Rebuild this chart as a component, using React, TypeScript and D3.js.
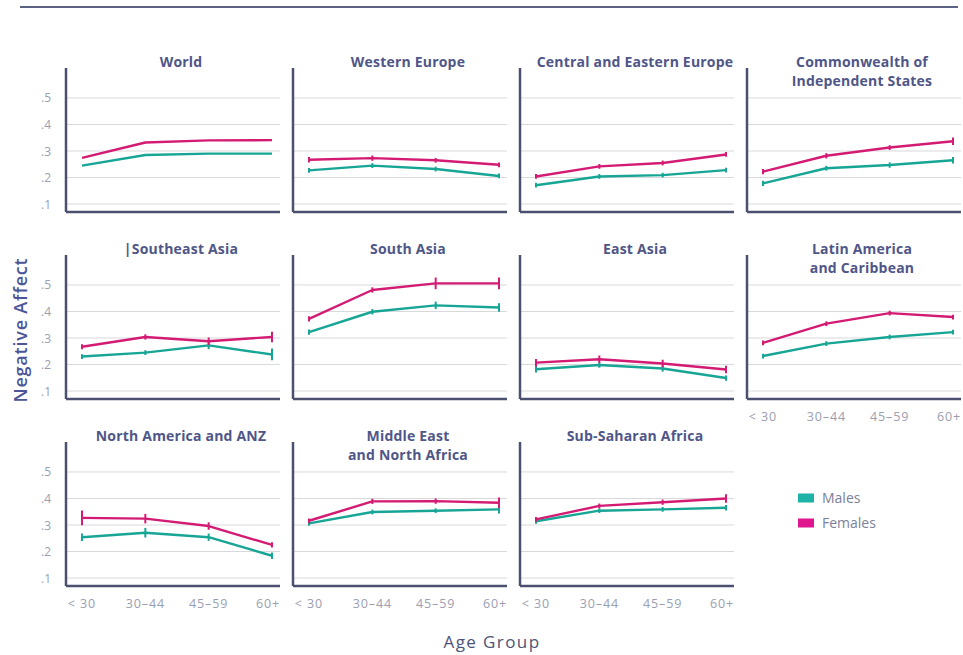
import { useEffect, useRef } from "react"
import * as d3 from "d3"

// age groups on the x axis
const ageGroups = ["< 30", "30–44", "45–59", "60+"]
const yTicks = [0.1, 0.2, 0.3, 0.4, 0.5]

// regions, in reading order (title lines)
const regionTitles: string[][] = [
  ["World"],
  ["Western Europe"],
  ["Central and Eastern Europe"],
  ["Commonwealth of", "Independent States"],
  ["|Southeast Asia"],
  ["South Asia"],
  ["East Asia"],
  ["Latin America", "and Caribbean"],
  ["North America and ANZ"],
  ["Middle East", "and North Africa"],
  ["Sub-Saharan Africa"],
]

// negative affect by age group
const malesValues = [
  [0.245, 0.285, 0.29, 0.29],
  [0.227, 0.245, 0.232, 0.206],
  [0.171, 0.204, 0.209, 0.228],
  [0.178, 0.235, 0.247, 0.265],
  [0.23, 0.245, 0.272, 0.238],
  [0.322, 0.399, 0.423, 0.415],
  [0.182, 0.198, 0.185, 0.149],
  [0.232, 0.279, 0.304, 0.322],
  [0.254, 0.271, 0.254, 0.184],
  [0.306, 0.349, 0.354, 0.359],
  [0.314, 0.354, 0.359, 0.365],
]
const femalesValues = [
  [0.274, 0.332, 0.34, 0.341],
  [0.267, 0.273, 0.265, 0.248],
  [0.204, 0.242, 0.255, 0.287],
  [0.222, 0.282, 0.313, 0.337],
  [0.267, 0.304, 0.288, 0.304],
  [0.372, 0.481, 0.506, 0.506],
  [0.207, 0.22, 0.204, 0.181],
  [0.282, 0.354, 0.394, 0.379],
  [0.327, 0.324, 0.296, 0.225],
  [0.316, 0.389, 0.39, 0.384],
  [0.321, 0.372, 0.386, 0.4],
]
// half-width of the error bars
const malesErr = [
  [0.002, 0.002, 0.002, 0.002],
  [0.008, 0.006, 0.006, 0.008],
  [0.006, 0.006, 0.006, 0.006],
  [0.01, 0.008, 0.01, 0.012],
  [0.008, 0.008, 0.014, 0.022],
  [0.01, 0.01, 0.014, 0.016],
  [0.012, 0.01, 0.012, 0.01],
  [0.006, 0.006, 0.006, 0.008],
  [0.014, 0.018, 0.014, 0.012],
  [0.006, 0.006, 0.008, 0.016],
  [0.006, 0.006, 0.008, 0.01],
]
const femalesErr = [
  [0.002, 0.002, 0.002, 0.002],
  [0.01, 0.01, 0.008, 0.008],
  [0.006, 0.006, 0.008, 0.006],
  [0.01, 0.01, 0.008, 0.014],
  [0.008, 0.01, 0.014, 0.02],
  [0.01, 0.01, 0.022, 0.022],
  [0.014, 0.014, 0.014, 0.014],
  [0.008, 0.006, 0.008, 0.008],
  [0.028, 0.018, 0.014, 0.01],
  [0.008, 0.01, 0.01, 0.02],
  [0.006, 0.008, 0.01, 0.016],
]

const seriesNames = ["Males", "Females"]

export default function App() {
  const svgRef = useRef<SVGSVGElement>(null)

  useEffect(() => {
    if (!svgRef.current) return
    const svg = d3.select(svgRef.current)
    svg.selectAll("*").remove()

    const font = "'Open Sans', 'DejaVu Sans', sans-serif"
    const axisColor = "#4b5070"
    const titleColor = "#4f5688"
    const tickColor = "#9a9eb1"
    const colors = ["#17a596", "#d41b74"]
    const swatchColors = ["#1db3a6", "#e0168e"]

    const colX = [66, 293, 520, 747]
    const rowTop = [68, 255, 442]
    const pw = 214
    const ph = 144

    const x = d3.scalePoint<string>().domain(ageGroups).range([16, 206])
    const y = d3.scaleLinear().domain([0.07, 0.613]).range([ph, 0])

    // rule across the top
    svg.append("line")
      .attr("x1", 20).attr("x2", 958).attr("y1", 7).attr("y2", 7)
      .attr("stroke", "#5c6282").attr("stroke-width", 2)

    regionTitles.forEach((title, i) => {
      const col = i % 4
      const row = Math.floor(i / 4)
      const g = svg.append("g").attr("transform", `translate(${colX[col]}, ${rowTop[row]})`)

      // grid lines
      g.selectAll(".grid")
        .data(yTicks)
        .enter()
        .append("line")
        .attr("x1", 0).attr("x2", pw)
        .attr("y1", (d) => y(d)).attr("y2", (d) => y(d))
        .attr("stroke", "#d9d9dc").attr("stroke-width", 1)

      // axes
      g.append("line").attr("x1", 0).attr("x2", 0).attr("y1", 0).attr("y2", ph)
        .attr("stroke", axisColor).attr("stroke-width", 2.5)
      g.append("line").attr("x1", 0).attr("x2", pw).attr("y1", ph).attr("y2", ph)
        .attr("stroke", axisColor).attr("stroke-width", 2.5)

      // title
      title.forEach((t, k) => {
        g.append("text")
          .attr("x", 115).attr("y", -1 + k * 18.5)
          .attr("text-anchor", "middle")
          .attr("font-family", font).attr("font-weight", 700)
          .attr("font-size", "14px").attr("letter-spacing", "0.2px").attr("fill", titleColor)
          .text(t)
      })

      // y tick labels on the first column
      if (col === 0) {
        g.selectAll(".ytick")
          .data(yTicks)
          .enter()
          .append("text")
          .attr("x", -15).attr("y", (d) => y(d) + 4.5)
          .attr("text-anchor", "end")
          .attr("font-family", font).attr("font-size", "12px").attr("fill", tickColor)
          .text((d) => d3.format(".1f")(d).replace("0.", "."))
      }

      // x tick labels on the last panel of each column
      const lastInCol = i + 4 >= regionTitles.length
      if (lastInCol) {
        g.selectAll(".xtick")
          .data(ageGroups)
          .enter()
          .append("text")
          .attr("x", (d) => x(d)! + (d === "60+" ? -4 : 0))
          .attr("y", ph + 22)
          .attr("text-anchor", "middle")
          .attr("font-family", font).attr("font-size", "12.5px")
          .attr("letter-spacing", "0.9px").attr("fill", tickColor)
          .text((d) => d)
      }

      const series = [
        { values: malesValues[i], err: malesErr[i] },
        { values: femalesValues[i], err: femalesErr[i] },
      ]

      series.forEach((s, si) => {
        const pts = ageGroups.map((a, k) => ({ a, v: s.values[k], e: s.err[k] }))
        const line = d3.line<{ a: string; v: number }>()
          .x((d) => x(d.a)!)
          .y((d) => y(d.v))
        g.append("path")
          .datum(pts)
          .attr("d", line)
          .attr("fill", "none")
          .attr("stroke", colors[si])
          .attr("stroke-width", 2.4)
          .attr("stroke-linejoin", "round")

        g.selectAll(`.err${si}`)
          .data(pts)
          .enter()
          .append("line")
          .attr("x1", (d) => x(d.a)!).attr("x2", (d) => x(d.a)!)
          .attr("y1", (d) => y(d.v - Math.max(d.e, 0.009)))
          .attr("y2", (d) => y(d.v + Math.max(d.e, 0.009)))
          .attr("stroke", colors[si])
          .attr("stroke-width", 2)
          .attr("opacity", (d) => (d.e < 0.004 ? 0 : 1))
      })
    })

    // axis titles
    svg.append("text")
      .attr("transform", "translate(27, 330) rotate(-90)")
      .attr("text-anchor", "middle")
      .attr("font-family", font).attr("font-weight", 600)
      .attr("font-size", "18px").attr("letter-spacing", "0.8px").attr("fill", "#4b5597")
      .text("Negative Affect")

    svg.append("text")
      .attr("x", 492).attr("y", 648)
      .attr("text-anchor", "middle")
      .attr("font-family", font).attr("font-weight", 500)
      .attr("font-size", "17px").attr("letter-spacing", "1.4px").attr("fill", "#4d5378")
      .text("Age Group")

    // legend
    const legend = svg.append("g").attr("transform", "translate(798, 498)")
    seriesNames.forEach((name, i) => {
      const item = legend.append("g").attr("transform", `translate(0, ${i * 25})`)
      item.append("rect").attr("x", 0).attr("y", -4.5).attr("width", 16).attr("height", 9)
        .attr("fill", swatchColors[i])
      item.append("text").attr("x", 24).attr("y", 5)
        .attr("font-family", font).attr("font-size", "14px").attr("fill", "#7a7f9a")
        .text(name)
    })
  }, [])

  return (
    <svg
      ref={svgRef}
      width={963}
      height={655}
      style={{ position: "absolute", top: 0, left: 0, background: "#fff" }}
    />
  )
}
